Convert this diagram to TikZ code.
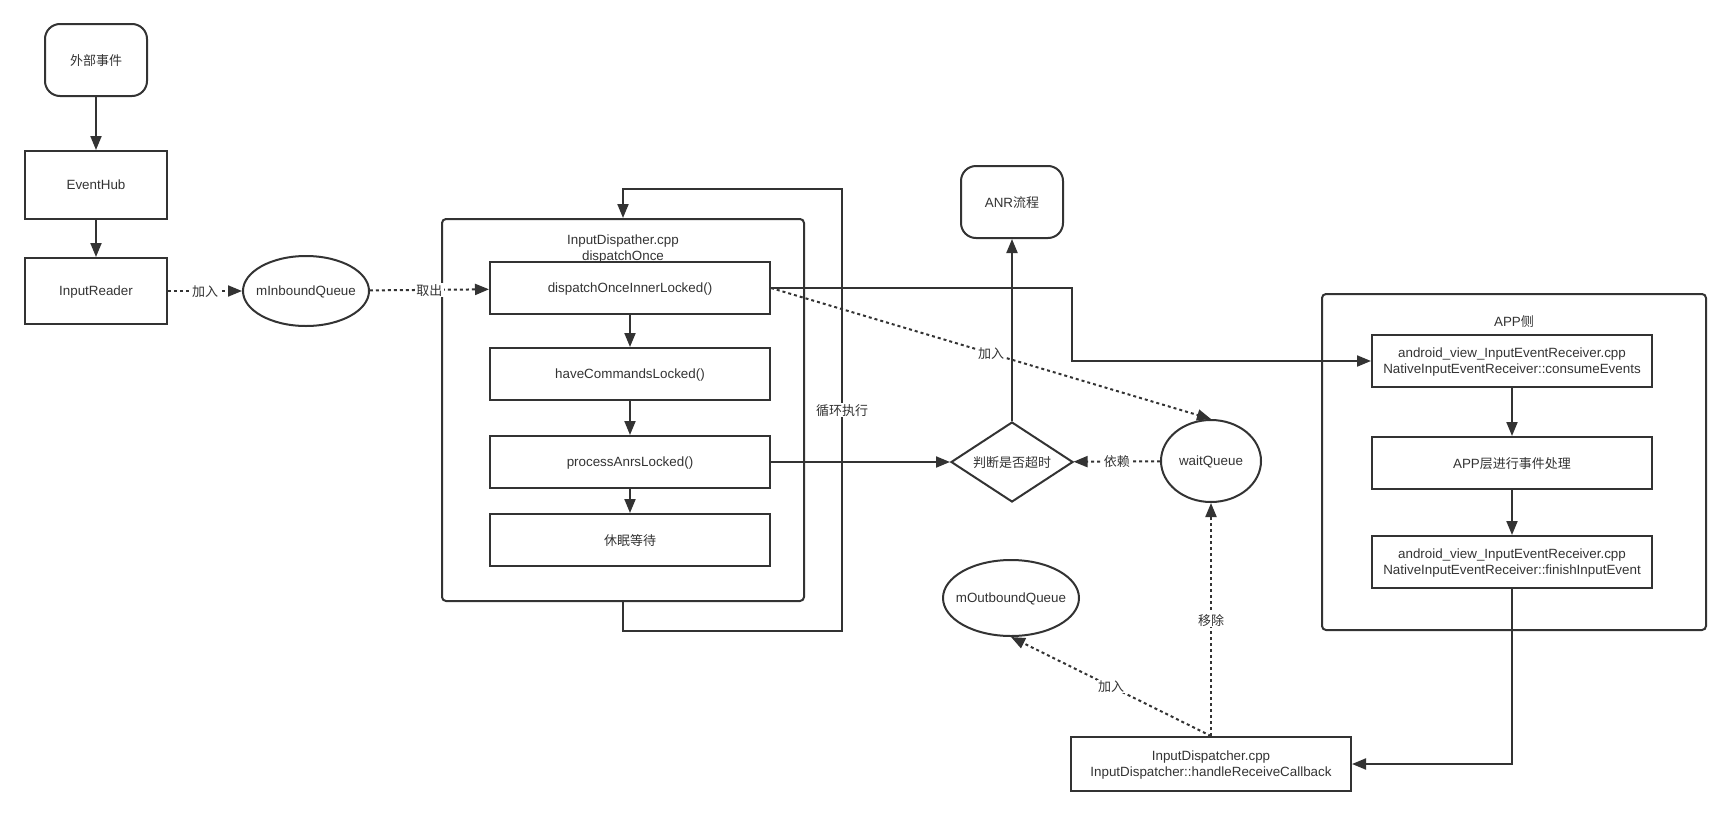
\documentclass[tikz,border=0pt]{standalone}
\usepackage{fontspec}
\setmainfont{Liberation Sans}[Scale=1.03]
\newfontfamily\cjk{Noto Sans CJK SC}
\usetikzlibrary{arrows.meta,shapes}
\definecolor{ink}{HTML}{333333}

\begin{document}
\begin{tikzpicture}[x=1pt,y=-1pt,-{Triangle[length=14pt,width=11pt]},line width=2pt,
                    color=ink,font=\fontsize{13}{16}\selectfont,
                    every text node part/.style={align=center},
                    every node/.style={text depth=0pt}]
  \tikzstyle{box}=[draw,rectangle,minimum width=280pt,minimum height=52pt,inner sep=0pt]
  \tikzstyle{term}=[draw,rectangle,rounded corners=15pt,minimum width=102pt,minimum height=72pt]
  \tikzstyle{queue}=[draw,ellipse,inner sep=-10pt]
  \tikzstyle{decision}=[draw,diamond,aspect=1.53,inner sep=0pt,minimum width=122pt,minimum height=80pt]
  \tikzstyle{group}=[draw,rectangle,rounded corners=4pt]
  \tikzstyle{dots}=[dash pattern=on 3pt off 3pt]
  \tikzstyle{tag}=[fill=white,inner sep=1.5pt]

  \useasboundingbox (0,0) rectangle (1730,814);

  % left column
  \node[term] (Ext) at (96,60) {{\cjk 外部事件}};
  \node[box,minimum width=142pt,minimum height=68pt] (Hub) at (96,185) {EventHub};
  \node[box,minimum width=142pt,minimum height=66pt] (Reader) at (96,291) {InputReader};
  \node[queue,minimum width=126pt,minimum height=70pt] (Inq) at (306,291) {mInboundQueue};

  % InputDispatcher loop
  \node[group,minimum width=362pt,minimum height=382pt] (Disp) at (623,410) {};
  \node (DispT) at (623,248) {InputDispather.cpp\\dispatchOnce};
  \node[box] (D1) at (630,288) {dispatchOnceInnerLocked()};
  \node[box] (D2) at (630,374) {haveCommandsLocked()};
  \node[box] (D3) at (630,462) {processAnrsLocked()};
  \node[box] (D4) at (630,540) {{\cjk 休眠等待}};

  % ANR check
  \node[term] (Anr) at (1012,202) {ANR{\cjk 流程}};
  \node[decision] (Judge) at (1012,462) {{\cjk 判断是否超时}};
  \node[queue,minimum width=100pt,minimum height=82pt] (Waitq) at (1211,461) {waitQueue};
  \node[queue,minimum width=136pt,minimum height=76pt] (Outq) at (1011,598) {mOutboundQueue};
  \node[box,minimum height=54pt] (Recv) at (1211,764) {InputDispatcher.cpp\\InputDispatcher::handleReceiveCallback};

  % app side
  \node[group,minimum width=384pt,minimum height=336pt] (App) at (1514,462) {};
  \node (AppT) at (1514,321) {APP{\cjk 侧}};
  \node[box] (A1) at (1512,361) {android\_view\_InputEventReceiver.cpp\\NativeInputEventReceiver::consumeEvents};
  \node[box] (A2) at (1512,463) {APP{\cjk 层进行事件处理}};
  \node[box] (A3) at (1512,562) {android\_view\_InputEventReceiver.cpp\\NativeInputEventReceiver::finishInputEvent};

  \coordinate (LoopR) at (842,631);
  \coordinate (LoopT) at (842,189);
  \coordinate (Turn) at (1072,361);

  \path (Ext) edge (Hub)
        (Hub) edge (Reader)
        (D1) edge (D2)
        (D2) edge (D3)
        (D3) edge (D4)
        (A1) edge (A2)
        (A2) edge (A3)
        (D3) edge (Judge)
        (Judge) edge (Anr);

  \draw[dots] (Reader) -- node[tag] {{\cjk 加入}} (Inq);
  \draw[dots] (Inq) -- node[tag] {{\cjk 取出}} (D1);
  \draw (Disp.south) |- (LoopR) -- node[tag] {{\cjk 循环执行}} (LoopT) -| (Disp.north);
  \draw (D1.east) -| (Turn) -- (A1.west);
  \draw[dots] (D1.east) -- node[tag] {{\cjk 加入}} (Waitq.north);
  \draw[dots] (Waitq) -- node[tag] {{\cjk 依赖}} (Judge);
  \draw (A3.south) |- (Recv.east);
  \draw[dots] (Recv.north) -- node[tag] {{\cjk 移除}} (Waitq.south);
  \draw[dots] (Recv.north) -- node[tag] {{\cjk 加入}} (Outq.south);
\end{tikzpicture}
\end{document}
